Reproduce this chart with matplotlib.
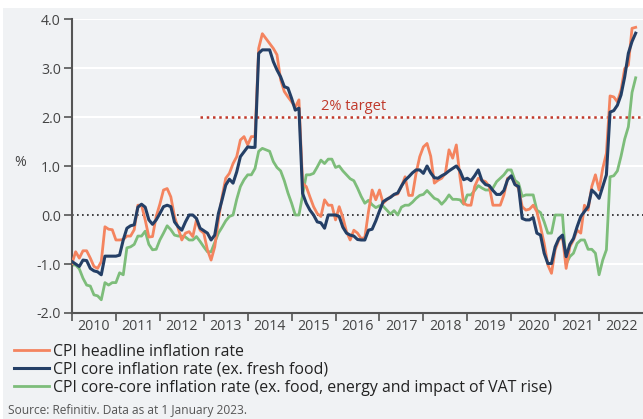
"""Japan CPI inflation: headline, core and core-core, 2010-2022."""
import matplotlib
matplotlib.use("Agg")
import matplotlib.pyplot as plt
from matplotlib.patches import Rectangle
import numpy as np

plt.rcParams["font.family"] = ["Open Sans", "DejaVu Sans"]

# monthly y/y % change, Jan 2010 .. Nov 2022
headline = [
    -0.99, -0.75, -0.88, -0.73, -0.73, -0.88, -1.05, -1.09, -0.95, -0.24, -0.29, -0.30,
    -0.51, -0.51, -0.50, -0.43, -0.43, -0.30, 0.20, 0.20, -0.10, -0.45, -0.44, -0.03,
    0.22, 0.51, 0.54, 0.37, -0.03, -0.27, -0.51, -0.37, -0.34, -0.44, -0.10, -0.31,
    -0.37, -0.71, -0.92, -0.65, -0.10, 0.37, 0.75, 0.85, 1.05, 1.19, 1.53, 1.60,
    1.43, 1.60, 1.60, 3.40, 3.70, 3.60, 3.50, 3.40, 3.27, 2.76, 2.52, 2.41,
    2.31, 2.20, 2.35, 0.65, 0.58, 0.37, 0.17, 0.03, -0.03, 0.31, 0.20, 0.20,
    -0.10, 0.17, -0.05, -0.34, -0.51, -0.31, -0.37, -0.48, -0.46, 0.07, 0.51, 0.31,
    0.51, 0.24, 0.31, 0.37, 0.41, 0.43, 0.58, 0.78, 0.40, 0.40, 0.85, 1.19,
    1.39, 1.46, 1.20, 0.65, 0.71, 0.75, 0.85, 1.33, 1.16, 1.43, 0.78, 0.24,
    0.20, 0.20, 0.58, 0.75, 0.71, 0.68, 0.58, 0.20, 0.20, 0.20, 0.41, 0.75,
    0.78, 0.65, 0.54, 0.17, 0.10, 0.12, 0.20, 0.07, -0.24, -0.58, -1.02, -1.19,
    -0.71, -0.51, -0.44, -1.09, -0.65, -0.51, -0.31, -0.37, 0.20, 0.10, 0.58, 0.82,
    0.51, 0.95, 1.26, 2.43, 2.41, 2.31, 2.55, 2.99, 3.06, 3.81, 3.83,
]
core = [
    -0.95, -1.00, -1.05, -0.92, -0.93, -1.09, -1.14, -1.16, -1.22, -0.84, -0.84, -0.84,
    -0.84, -0.82, -0.51, -0.27, -0.22, -0.20, 0.16, 0.22, 0.16, -0.10, -0.19, -0.10,
    0.03, 0.17, 0.20, 0.17, -0.14, -0.24, -0.31, -0.14, 0.00, 0.00, -0.07, -0.27,
    -0.32, -0.37, -0.51, -0.41, 0.03, 0.31, 0.61, 0.73, 0.65, 0.88, 1.19, 1.29,
    1.39, 1.38, 1.38, 3.30, 3.37, 3.37, 3.37, 3.13, 2.96, 2.82, 2.62, 2.59,
    2.38, 2.14, 2.18, 0.44, 0.24, 0.10, 0.00, -0.14, -0.16, -0.27, 0.00, 0.00,
    0.00, -0.03, -0.25, -0.37, -0.41, -0.43, -0.50, -0.51, -0.51, -0.31, -0.29, -0.12,
    0.08, 0.27, 0.32, 0.36, 0.42, 0.45, 0.59, 0.71, 0.78, 0.86, 0.92, 0.92,
    0.85, 1.00, 0.86, 0.76, 0.75, 0.80, 0.84, 0.90, 0.95, 1.00, 0.90, 0.72,
    0.75, 0.70, 0.80, 0.92, 0.70, 0.62, 0.60, 0.50, 0.42, 0.42, 0.50, 0.72,
    0.80, 0.62, 0.58, -0.07, -0.10, -0.10, -0.05, -0.37, -0.41, -0.78, -0.99, -0.99,
    -0.65, -0.48, -0.41, -0.85, -0.60, -0.48, -0.24, -0.03, 0.07, 0.17, 0.51, 0.44,
    0.34, 0.58, 0.82, 2.10, 2.13, 2.24, 2.45, 2.82, 3.30, 3.54, 3.71,
]
core_core = [
    -1.02, -1.02, -1.10, -1.29, -1.43, -1.45, -1.63, -1.65, -1.73, -1.38, -1.43, -1.38,
    -1.38, -1.18, -1.22, -0.67, -0.65, -0.60, -0.43, -0.43, -0.33, -0.60, -0.71, -0.70,
    -0.51, -0.37, -0.22, -0.30, -0.41, -0.43, -0.43, -0.45, -0.51, -0.51, -0.44, -0.54,
    -0.65, -0.75, -0.75, -0.56, -0.37, -0.25, -0.12, -0.03, 0.00, 0.32, 0.58, 0.72,
    0.82, 0.82, 0.95, 1.30, 1.36, 1.33, 1.30, 1.09, 0.97, 0.90, 0.70, 0.45,
    0.24, 0.00, 0.00, 0.40, 0.82, 0.82, 0.85, 0.98, 1.12, 1.05, 1.14, 1.14,
    0.97, 1.00, 0.90, 0.82, 0.74, 0.70, 0.55, 0.38, 0.24, 0.30, 0.21, 0.15,
    0.19, 0.18, 0.10, 0.02, 0.09, 0.00, 0.16, 0.20, 0.20, 0.26, 0.34, 0.40,
    0.42, 0.50, 0.42, 0.34, 0.31, 0.22, 0.30, 0.41, 0.32, 0.32, 0.31, 0.22,
    0.41, 0.41, 0.50, 0.60, 0.55, 0.51, 0.51, 0.55, 0.68, 0.75, 0.82, 0.92,
    0.92, 0.71, 0.65, 0.38, 0.41, 0.41, 0.41, 0.10, 0.05, -0.14, -0.37, -0.37,
    0.00, 0.00, 0.00, -1.00, -0.85, -0.78, -0.58, -0.51, -0.51, -0.70, -0.70, -0.78,
    -1.22, -0.92, -0.71, 0.78, 0.80, 0.90, 1.20, 1.55, 1.80, 2.50, 2.80,
]
years = list(range(2010, 2023))
target = 2.0
target_start = 35  # month index where the target line begins

BG = "#f0f2f4"
INK = "#444444"
RED = "#c0392b"
W, H = 643, 419

fig = plt.figure(figsize=(W / 100, H / 100), dpi=100, facecolor="white")
fig.patches.append(Rectangle((3 / W, 0), 1, 1 - 8 / H, transform=fig.transFigure,
                             facecolor=BG, edgecolor="none", zorder=-10))
ax = fig.add_axes([72 / W, 1 - 313 / H, (W - 72) / W, 294 / H])
ax.set_facecolor("none")

months = np.arange(len(headline))
ax.plot(months, headline, color="#f4845f", lw=2.0, zorder=3, label="CPI headline inflation rate")
ax.plot(months, core, color="#243f66", lw=2.2, zorder=4, label="CPI core inflation rate (ex. fresh food)")
ax.plot(months, core_core, color="#7dbd7a", lw=2.0, zorder=2,
        label="CPI core-core inflation rate (ex. food, energy and impact of VAT rise)")

for lvl in (-1, 1, 2, 3, 4):
    ax.axhline(lvl, color="white", lw=1.5, zorder=1)
ax.axhline(0, color="#222222", lw=1.2, ls=(0, (1, 2)), zorder=1)
ax.plot([target_start, 12 * len(years)], [target, target], color=RED, lw=1.8,
        ls=(0, (1, 1.5)), zorder=1)
ax.text(77, 2.22, "2% target", color=RED, fontsize=10.5, ha="center", va="center")

ax.set_xlim(0, 12 * len(years))
ax.set_ylim(-2, 4)
ax.set_yticks(range(-2, 5))
ax.set_yticklabels([f"{v:.1f}" for v in range(-2, 5)])
ax.set_xticks([12 * k for k in range(len(years))])
ax.set_xticklabels([])
ax.set_xticks([12 * k + 6 for k in range(len(years))], minor=True)
ax.set_xticklabels([str(y) for y in years], minor=True)
ax.tick_params(axis="x", which="major", length=6, width=1.2, color="#555555")
ax.tick_params(axis="x", which="minor", length=0, pad=4, labelsize=10.2, labelcolor=INK)
ax.tick_params(axis="y", length=6, width=1.2, color="#555555", pad=2, labelsize=10.2, labelcolor=INK)

for side in ("top", "right"):
    ax.spines[side].set_visible(False)
for side in ("left", "bottom"):
    ax.spines[side].set_color("#555555")
    ax.spines[side].set_linewidth(1.5)

fig.text(20 / W, 1 - 163 / H, "%", fontsize=10.2, color=INK, ha="center", va="center")

fig.legend(loc="upper left", bbox_to_anchor=(14 / W, 1 - 344 / H), frameon=False,
           fontsize=11.4, handlelength=2.2, handletextpad=0.25, labelspacing=0.12,
           borderpad=0, borderaxespad=0, labelcolor="#222222")
fig.text(8 / W, 1 - 410 / H, "Source: Refinitiv. Data as at 1 January 2023.",
         fontsize=8.6, color="#555555", ha="left", va="center")

fig.savefig("out.png", dpi=100, facecolor=fig.get_facecolor())
